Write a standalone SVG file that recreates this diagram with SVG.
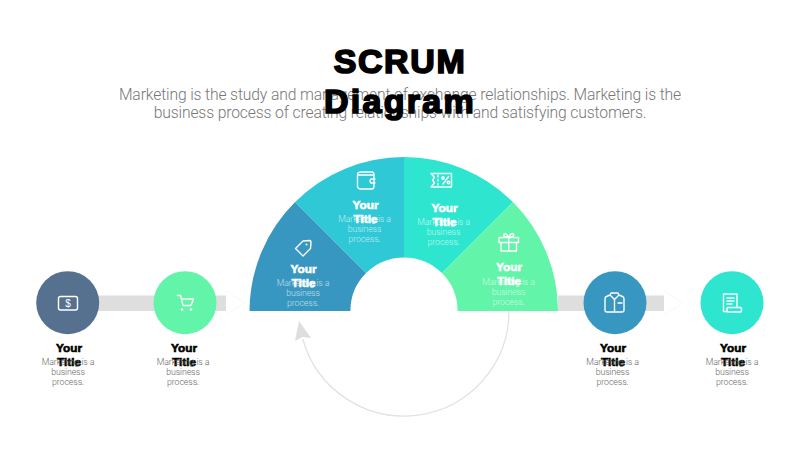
<svg xmlns="http://www.w3.org/2000/svg" width="800" height="450" viewBox="0 0 800 450">
<style>
.head{font:bold 34px "Liberation Sans",Arial,sans-serif;fill:#000;stroke:#000;stroke-width:1.7;text-anchor:middle;letter-spacing:1.6px}
.sub{font:300 15.7px Roboto,"Liberation Sans",Arial,sans-serif;fill:#777;text-anchor:middle;letter-spacing:-.14px}
.t{font:bold 11.8px "Liberation Sans",Arial,sans-serif;text-anchor:middle;stroke-width:.6}
.b{font:300 8.8px Roboto,"Liberation Sans",Arial,sans-serif;text-anchor:middle;letter-spacing:-.1px}
.dark .t{fill:#000;stroke:#000}
.dark .b{fill:#666}
.lite .t{fill:#fff;stroke:#fff}
.lite .b{fill:#fff;fill-opacity:.7}
.ic{fill:none;stroke:#fff;stroke-width:1.4;stroke-linejoin:round;stroke-linecap:round}
.ghost{fill:none;stroke:#f3f8f6;stroke-width:.8}
</style>
<g id="heading">
<text class="head" x="400" y="72.500">SCRUM</text>
<text class="sub" x="400" y="100">Marketing is the study and management of exchange relationships. Marketing is the</text>
<text class="sub" x="400" y="118">business process of creating relationships with and satisfying customers.</text>
<text class="head" x="400" y="113" style="letter-spacing:2.3px">Diagram</text>
</g>
<g id="connectors">
<rect x="68" y="295.500" width="158" height="15.500" fill="#dedede"/>
<rect x="558" y="295.500" width="106" height="15.500" fill="#dedede"/>
<path class="ghost" d="M226 291L245 303L226 315"/>
<path class="ghost" d="M664 291L683 303L664 315"/>
<path d="M509 311A105 105 0 0 1 302.800 339" fill="none" stroke="#e2e2e2" stroke-width="1.3"/>
<path d="M299 321L295 341L302.500 337L311 338Z" fill="#dedede"/>
</g>
<g id="segment-tag" class="lite">
<path d="M249.500 311A154.500 154.500 0 0 1 295.100 202.100L366.100 273.100A53.600 53.600 0 0 0 350.400 311Z" fill="#3797c0"/>
<path class="ic" d="M295.500 248.500L303 241L309.500 240.500Q311 240.500 311 242L310.500 248.500L303 256Z"/>
<circle cx="306.500" cy="244.500" r="1" fill="#fff"/>
<text class="t" x="303.500" y="273">Your</text><text class="t" x="303.500" y="287">Title</text>
<text class="b" x="303" y="286">Marketing is a</text><text class="b" x="303" y="296">business</text><text class="b" x="303" y="306">process.</text>
</g>
<g id="segment-wallet" class="lite">
<path d="M295.100 202.100A154.500 154.500 0 0 1 404 157L404 257.400A53.600 53.600 0 0 0 366.100 273.100Z" fill="#2ec8d6"/>
<path class="ic" d="M357.500 175Q357.500 172 361 172L372 172Q374 172 374 175L374 186Q374 189 372 189L361 189Q357.500 189 357.500 186ZM357.500 175L374 175M375 179L371 179Q369 181 371 183L375 183"/>
<text class="t" x="365.500" y="209">Your</text><text class="t" x="365.500" y="223">Title</text>
<text class="b" x="364.500" y="222">Marketing is a</text><text class="b" x="364.500" y="232">business</text><text class="b" x="364.500" y="242">process.</text>
</g>
<g id="segment-coupon" class="lite">
<path d="M404 157A154.500 154.500 0 0 1 512.900 202.100L441.900 273.100A53.600 53.600 0 0 0 404 257.400Z" fill="#2ee6d0"/>
<path class="ic" d="M431 173.500L451.500 173.500L451.500 187L431 187L434.500 183L432.500 180L434.500 177.500ZM438 175.500L438 177M438 179.500L438 181M438 183.500L438 185M443 184L448.500 176.500"/>
<circle class="ic" cx="443" cy="178" r="1.200"/><circle class="ic" cx="448.500" cy="182.500" r="1.200"/>
<text class="t" x="444.500" y="212">Your</text><text class="t" x="444.500" y="226">Title</text>
<text class="b" x="443.500" y="225">Marketing is a</text><text class="b" x="443.500" y="235">business</text><text class="b" x="443.500" y="245">process.</text>
</g>
<g id="segment-gift" class="lite">
<path d="M512.900 202.100A154.500 154.500 0 0 1 558 311L457.600 311A53.600 53.600 0 0 0 441.900 273.100Z" fill="#62f4a8"/>
<path class="ic" d="M499 237.500L518.500 237.500L518.500 242.500L499 242.500ZM501 242.500L501 251L516.500 251L516.500 242.500M508.700 237.500L508.700 251M508.700 237.500Q503 237 504 234Q506 232 508.700 237.500Q511 232 513.500 234Q514.500 237 508.700 237.500"/>
<text class="t" x="509" y="271">Your</text><text class="t" x="509" y="285">Title</text>
<text class="b" x="508.500" y="285">Marketing is a</text><text class="b" x="508.500" y="295">business</text><text class="b" x="508.500" y="305">process.</text>
</g>
<g id="node-money" class="dark">
<circle cx="67.700" cy="302.700" r="31.500" fill="#56708f"/>
<rect class="ic" x="58.500" y="296.500" width="19" height="13.500" rx="2"/>
<text x="68" y="307" font-family="Liberation Sans" font-size="10" fill="#fff" text-anchor="middle">$</text>
<text class="t" x="69" y="352">Your</text><text class="t" x="69" y="366">Title</text>
<text class="b" x="68" y="365">Marketing is a</text><text class="b" x="68" y="375">business</text><text class="b" x="68" y="385">process.</text>
</g>
<g id="node-cart" class="dark">
<circle cx="185" cy="302.700" r="31.500" fill="#62f4a8"/>
<path class="ic" d="M177.500 295.500L180.500 295.500L183 305.500L191 305.500L193.500 299L181.500 299"/>
<circle cx="182" cy="309.500" r="1.300" fill="#fff"/><circle cx="191" cy="309.500" r="1.300" fill="#fff"/>
<text class="t" x="184" y="352">Your</text><text class="t" x="184" y="366">Title</text>
<text class="b" x="183" y="365">Marketing is a</text><text class="b" x="183" y="375">business</text><text class="b" x="183" y="385">process.</text>
</g>
<g id="node-shirt" class="dark">
<circle cx="615" cy="302.700" r="31.500" fill="#3797c0"/>
<path class="ic" d="M610 295L606.500 296.500Q605 297 605 299L605 310Q605 312 607 312L622 312Q624 312 624 310L624 299Q624 297 622.500 296.500L619 295M610 295L611 293L618 293L619 295L614.500 299.500ZM614.500 299.500L614.500 312M618 303L622 303"/>
<text class="t" x="613" y="352">Your</text><text class="t" x="613" y="366">Title</text>
<text class="b" x="612.500" y="365">Marketing is a</text><text class="b" x="612.500" y="375">business</text><text class="b" x="612.500" y="385">process.</text>
</g>
<g id="node-receipt" class="dark">
<circle cx="732" cy="302.700" r="31.500" fill="#2ee6d0"/>
<path class="ic" d="M727 311.500L723.500 311.500L723.500 294L737 294L737 307.500M727 298L734 298M727 301L734 301M727 304L732 304"/>
<rect class="ic" x="727" y="307.500" width="14.500" height="4.500" rx="1"/>
<text class="t" x="733" y="352">Your</text><text class="t" x="733" y="366">Title</text>
<text class="b" x="732" y="365">Marketing is a</text><text class="b" x="732" y="375">business</text><text class="b" x="732" y="385">process.</text>
</g>
</svg>
